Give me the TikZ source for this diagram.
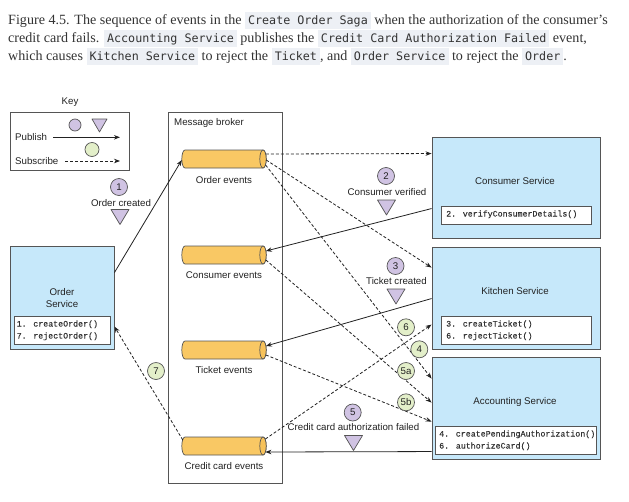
\documentclass[tikz,border=0pt]{standalone}
\usepackage{fontspec}
\setmainfont{Liberation Sans}
\newfontfamily\capfont{Liberation Serif}
\newfontfamily\codefont{DejaVu Sans Mono}
\newfontfamily\mfont[FakeBold=0.3]{Liberation Mono}
\usetikzlibrary{arrows.meta,calc}
\definecolor{codebg}{HTML}{EDF0F5}
\definecolor{codetxt}{HTML}{333333}
\definecolor{captxt}{HTML}{333333}
\definecolor{txt}{HTML}{222222}
\definecolor{mtxt}{HTML}{333333}
\definecolor{bord}{HTML}{555555}
\definecolor{ln}{HTML}{222222}
\definecolor{svcblue}{HTML}{C6E8FA}
\definecolor{purp}{HTML}{D0C3E3}
\definecolor{grn}{HTML}{E3EFC9}
\definecolor{cylfill}{HTML}{F9C864}
\definecolor{cylend}{HTML}{F7C25A}
\newcommand\cd[1]{{\setlength{\fboxsep}{0pt}\colorbox{codebg}{\rule[-4.7pt]{0pt}{17pt}\hspace{3pt}{\codefont\fontsize{11.7}{14}\selectfont\color{codetxt}#1}\hspace{3pt}}}}
\newcommand\cyl[2]{%
  \node[minimum width=84pt, minimum height=18pt, inner sep=0pt] (#1) at (224,#2) {};
  \draw[cylst] (185,#2-9) -- (263,#2-9) arc[start angle=-90,end angle=90,x radius=3.2,y radius=9] -- (185,#2+9) arc[start angle=90,end angle=270,x radius=3.2,y radius=9] -- cycle;
  \draw[cylst, fill=cylend] (263,#2) ellipse[x radius=3.2, y radius=9];
}
\newcommand\tri[2]{\draw[trist] (#1-9,#2-7.5) -- (#1+9,#2-7.5) -- (#1,#2+7.5) -- cycle;}
\tikzset{
  capt/.style={anchor=base west, inner sep=0pt, font=\capfont\fontsize{14.1}{17}\selectfont, text=captxt},
  lbl/.style={font=\fontsize{9.7}{11.5}\selectfont, text=txt, inner sep=0pt},
  svc/.style={draw=bord, fill=svcblue, line width=0.9pt, inner sep=0pt},
  mbox/.style={draw=bord, fill=white, line width=0.8pt, inner sep=0pt},
  code/.style={font=\mfont\fontsize{8.3}{12}\selectfont, text=mtxt, anchor=base west, inner sep=0pt},
  pub/.style={draw=ln, line width=0.8pt, -{Stealth[length=6pt,width=4.5pt]}},
  sub/.style={pub, dash pattern=on 3pt off 2pt},
  evp/.style={circle, draw=bord, fill=purp, line width=0.7pt, minimum size=17pt, inner sep=0pt, font=\fontsize{9.7}{11}\selectfont, text=txt},
  evg/.style={evp, fill=grn},
  trist/.style={draw=bord, fill=purp, line width=0.7pt, line join=round},
  cylst/.style={draw=bord, fill=cylfill, line width=0.7pt},
}
\begin{document}
\begin{tikzpicture}[x=1pt,y=-1pt]
\useasboundingbox (0,0) rectangle (629,501);
\fill[white] (0,0) rectangle (629,501);

% caption
\node[capt] (cap1) at (8,24.3) {Figure 4.5. The sequence of events in the \cd{Create Order Saga} when the authorization of the consumer’s};
\node[capt] (cap2) at (8,42.3) {credit card fails. \cd{Accounting Service} publishes the \cd{Credit Card Authorization Failed} event,};
\node[capt] (cap3) at (8,60.3) {which causes \cd{Kitchen Service} to reject the \cd{Ticket}, and \cd{Order Service} to reject the \cd{Order}.};

% key
\node[lbl] (keylbl) at (70,102) {Key};
\node[draw=bord, line width=0.8pt, minimum width=119pt, minimum height=58pt, inner sep=0pt] (key) at (69.5,141) {};
\node[lbl, anchor=west] (kpub) at (15,137.3) {Publish};
\node[lbl, anchor=west] (ksub) at (15,161) {Subscribe};
\coordinate (kpa) at (53,137.3);
\coordinate (kpb) at (120,137.3);
\coordinate (ksa) at (65,161);
\coordinate (ksb) at (120,161);
\draw[pub] (kpa) -- (kpb);
\draw[sub] (ksa) -- (ksb);
\node[circle, draw=bord, fill=purp, line width=0.7pt, minimum size=12pt, inner sep=0pt] (kc) at (75,125) {};
\draw[trist] (92,119) -- (107,119) -- (99.5,132) -- cycle;
\node[circle, draw=bord, fill=grn, line width=0.7pt, minimum size=14pt, inner sep=0pt] (kg) at (92,149.5) {};

% message broker
\node[mbox, minimum width=114pt, minimum height=371pt] (mb) at (225,297.5) {};
\node[lbl, anchor=west] (mblbl) at (174,123) {Message broker};
\cyl{oe}{159}
\cyl{ce}{255}
\cyl{te}{350}
\cyl{cce}{446}
\node[lbl] at (224,180) {Order events};
\node[lbl] at (224,275) {Consumer events};
\node[lbl] at (224,370.5) {Ticket events};
\node[lbl] at (224,466) {Credit card events};

% services
\node[svc, minimum width=104pt, minimum height=103pt] (os) at (62,297.5) {};
\node[lbl, align=center] (oslbl) at (62,298) {Order\\[0.5pt]Service};
\node[mbox, minimum width=96pt, minimum height=28pt] (osm) at (62,330) {};
\node[code] at (16.5,326.5) {1. createOrder()};
\node[code] at (16.5,338.5) {7. rejectOrder()};

\node[svc, minimum width=168pt, minimum height=101pt] (cs) at (516,187.5) {};
\node[lbl] (cslbl) at (515,181) {Consumer Service};
\node[mbox, minimum width=150pt, minimum height=18pt] (csm) at (516,215) {};
\node[code] at (446,216.5) {2. verifyConsumerDetails()};

\node[svc, minimum width=168pt, minimum height=102pt] (ks) at (516,298) {};
\node[lbl] (kslbl) at (515,291.5) {Kitchen Service};
\node[mbox, minimum width=150pt, minimum height=28pt] (ksm) at (516,330) {};
\node[code] at (446,326.5) {3. createTicket()};
\node[code] at (446,338.5) {6. rejectTicket()};

\node[svc, minimum width=168pt, minimum height=102pt] (as) at (516,408) {};
\node[lbl] (aslbl) at (515,401.5) {Accounting Service};
\node[mbox, minimum width=161pt, minimum height=28pt] (asm) at (515.5,440) {};
\node[code] at (439,436.5) {4. createPendingAuthorization()};
\node[code] at (439,448.5) {6. authorizeCard()};

% publish connectors
\draw[pub] ($(os.north east)+(0,27)$) -- ($(oe.west)+(0,1)$);
\draw[pub] ($(cs.north west)+(0,72)$) -- ($(ce.east)+(-0.3,-4)$);
\draw[pub] ($(ks.north west)+(0,52)$) -- ($(te.east)+(-0.3,-4)$);
\draw[pub] ($(as.north west)+(0,95)$) -- ($(cce.east)+(-0.8,6)$);

% subscribe connectors
\draw[sub] ($(oe.east)+(-0.3,-5)$) -- ($(cs.north west)+(0,17)$);
\draw[sub] ($(oe.east)+(0,1)$) -- ($(ks.north west)+(0,21)$);
\draw[sub] ($(oe.east)+(-0.6,6)$) -- ($(as.north west)+(0,22)$);
\draw[sub] ($(ce.east)+(-0.3,5)$) -- ($(as.north west)+(0,46)$);
\draw[sub] ($(te.east)+(-0.3,5)$) -- ($(as.north west)+(0,65)$);
\draw[sub] ($(cce.east)+(-0.8,-7)$) -- ($(ks.north west)+(0,78)$);
\draw[sub] ($(cce.west)+(1,-6)$) -- ($(os.north east)+(0,81)$);

% event markers
\node[evp] (e1) at (119,187) {1};
\node[lbl] (l1) at (121,203) {Order created};
\tri{120}{217}
\node[evp] (e2) at (386,176) {2};
\node[lbl] (l2) at (387,192) {Consumer verified};
\tri{386.5}{207.5}
\node[evp] (e3) at (395.5,266) {3};
\node[lbl] (l3) at (396.5,281) {Ticket created};
\tri{396}{296.5}
\node[evp] (e5) at (352.7,412.5) {5};
\node[lbl] (l5) at (353.5,427) {Credit card authorization failed};
\tri{353.5}{443}
\node[evg] (g6) at (406,327.3) {6};
\node[evg] (g4) at (419.3,349.3) {4};
\node[evg] (g5a) at (406,371) {5a};
\node[evg] (g5b) at (406,402.3) {5b};
\node[evg] (g7) at (156,371) {7};
\end{tikzpicture}
\end{document}
